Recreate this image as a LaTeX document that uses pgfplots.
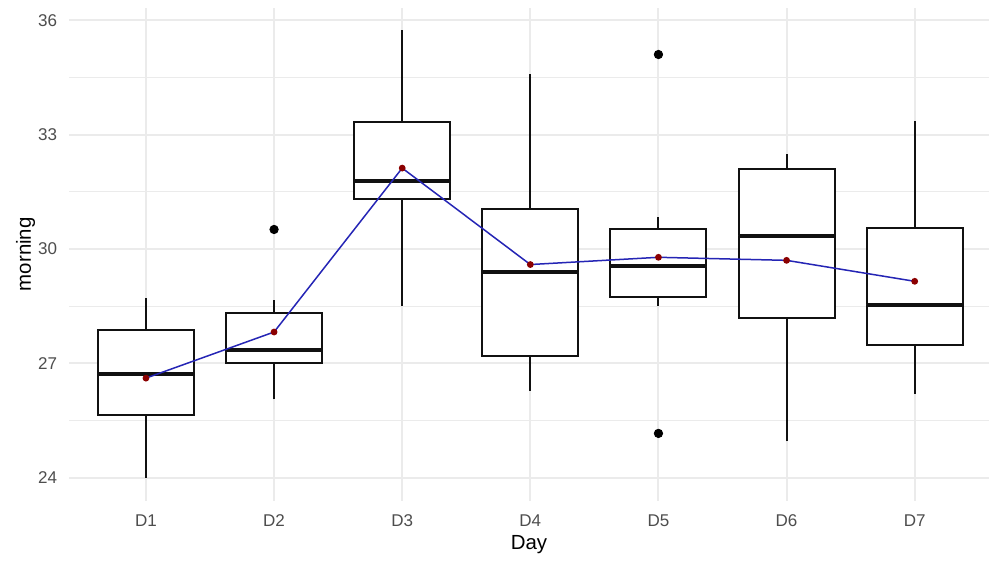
\documentclass[border=0pt]{standalone}
\usepackage{pgfplots}
\pgfplotsset{compat=1.18}
\usepgfplotslibrary{statistics}
\usepackage{fontspec}
\setmainfont{Liberation Sans}
\definecolor{gridc}{HTML}{EBEBEB}
\definecolor{ticklab}{HTML}{4D4D4D}
\definecolor{boxc}{HTML}{111111}
\definecolor{meanline}{HTML}{2525B5}
\definecolor{meanpt}{HTML}{8B0000}
\pgfplotsset{
  boxplot/draw/lower whisker/.code={\draw[/pgfplots/boxplot/every whisker/.try] (boxplot cs:\pgfplotsboxplotvalue{lower whisker}) -- (boxplot cs:\pgfplotsboxplotvalue{lower quartile});},
  boxplot/draw/upper whisker/.code={\draw[/pgfplots/boxplot/every whisker/.try] (boxplot cs:\pgfplotsboxplotvalue{upper quartile}) -- (boxplot cs:\pgfplotsboxplotvalue{upper whisker});},
  boxplot/every median/.style={line width=2pt},
  mybox/.style={draw=boxc, line width=1pt, fill=white, solid, boxplot/box extend=0.75},
}
\begin{document}
\begin{tikzpicture}
\useasboundingbox (-34.5pt,-30pt) rectangle (459.5pt,250pt);
\begin{axis}[
  at={(0,0)}, anchor=south west,
  scale only axis, width=459.5pt, height=246pt,
  xmin=0.4, xmax=7.58, ymin=23.4, ymax=36.32,
  xtick={1,2,3,4,5,6,7}, xticklabels={D1,D2,D3,D4,D5,D6,D7},
  ytick={24,27,30,33,36},
  minor ytick={25.5,28.5,31.5,34.5},
  grid=both,
  major grid style={draw=gridc, line width=1pt},
  minor grid style={draw=gridc, line width=0.5pt},
  axis line style={draw=none},
  major tick length=0pt, minor tick length=0pt,
  /pgf/number format/assume math mode=true,
  tick label style={font=\fontsize{8.5}{10}\selectfont, text=ticklab},
  yticklabel style={xshift=-2.5pt},
  xticklabel style={yshift=-3.7pt},
  xlabel={Day}, ylabel={morning},
  label style={font=\fontsize{10.2}{12}\selectfont, text=black},
  xlabel style={at={(axis description cs:0.5,0)}, anchor=north, yshift=-13.8pt},
  ylabel style={at={(axis description cs:-0.0473,0.5)}, anchor=center},
  boxplot/draw direction=y,
]
\addplot+[mybox, boxplot prepared={draw position=1, lower whisker=24.0, lower quartile=25.63, median=26.73, upper quartile=27.86, upper whisker=28.70}] coordinates {};
\addplot+[mybox, boxplot prepared={draw position=2, lower whisker=26.05, lower quartile=27.01, median=27.35, upper quartile=28.32, upper whisker=28.67}] coordinates {};
\addplot+[mybox, boxplot prepared={draw position=3, lower whisker=28.50, lower quartile=31.30, median=31.77, upper quartile=33.33, upper whisker=35.74}] coordinates {};
\addplot+[mybox, boxplot prepared={draw position=4, lower whisker=26.28, lower quartile=27.18, median=29.39, upper quartile=31.05, upper whisker=34.58}] coordinates {};
\addplot+[mybox, boxplot prepared={draw position=5, lower whisker=28.50, lower quartile=28.75, median=29.55, upper quartile=30.53, upper whisker=30.84}] coordinates {};
\addplot+[mybox, boxplot prepared={draw position=6, lower whisker=24.95, lower quartile=28.18, median=30.35, upper quartile=32.09, upper whisker=32.48}] coordinates {};
\addplot+[mybox, boxplot prepared={draw position=7, lower whisker=26.20, lower quartile=27.49, median=28.53, upper quartile=30.56, upper whisker=33.36}] coordinates {};
% outliers
\addplot[only marks, mark=*, mark size=2.1pt, mark options={draw=black, fill=black}] coordinates {(2,30.51) (5,35.10) (5,25.16)};
% mean line
\addplot[meanline, line width=0.75pt, mark=*, mark size=1.3pt, mark options={draw=meanpt, fill=meanpt}] coordinates {(1,26.61) (2,27.82) (3,32.12) (4,29.59) (5,29.78) (6,29.70) (7,29.15)};
\end{axis}
\end{tikzpicture}
\end{document}
